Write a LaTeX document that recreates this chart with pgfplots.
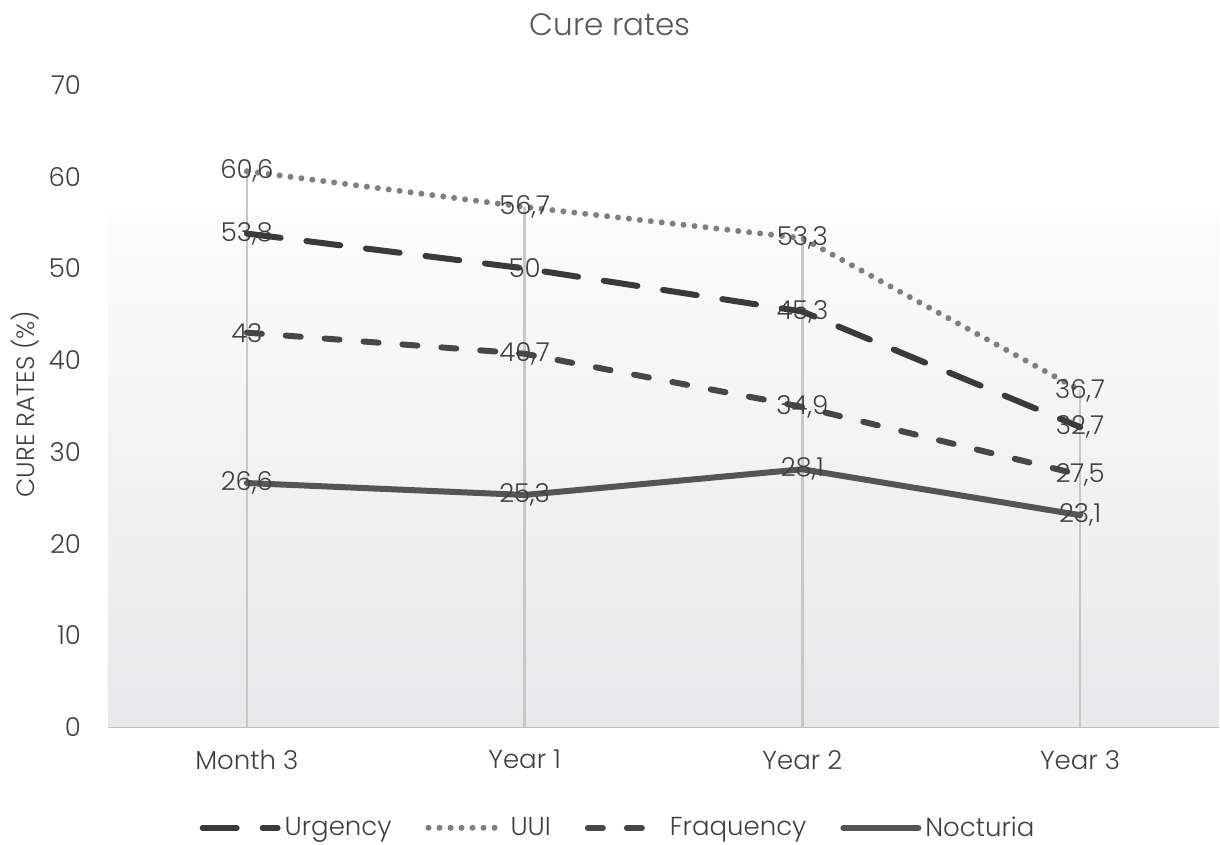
\documentclass[border=0pt]{standalone}
\usepackage{pgfplots}
\pgfplotsset{compat=1.18}
\usepackage{fontspec}
\setmainfont{Poppins Light}
\definecolor{txt}{HTML}{404040}
\definecolor{ttl}{HTML}{595959}
\definecolor{axisgray}{HTML}{BFBFBF}
\definecolor{dropgray}{HTML}{C8C8C8}
\definecolor{urg}{HTML}{3A3A3A}
\definecolor{uui}{HTML}{7F7F7F}
\definecolor{fra}{HTML}{474747}
\definecolor{noc}{HTML}{555555}
\definecolor{bgbot}{HTML}{E8E8EA}
\definecolor{bgtop}{HTML}{FCFCFC}
\begin{document}
\begin{tikzpicture}
\path[use as bounding box] (0,0) rectangle (610pt,422.5pt);
\node[font=\fontsize{15.5}{18}\selectfont, text=ttl] at (305pt,410pt) {Cure rates};
\node[font=\fontsize{12.5}{15}\selectfont, text=txt, rotate=90] at (12.5pt,220.5pt) {CURE RATES (\%)};
\begin{axis}[
  at={(54pt,59pt)}, anchor=south west,
  scale only axis, width=555.5pt, height=321pt,
  xmin=-0.5, xmax=3.5, ymin=0, ymax=70,
  xtick={0,1,2,3}, xticklabels={Month 3,Year 1,Year 2,Year 3},
  ytick={0,10,...,70},
  axis x line*=bottom, axis y line*=left,
  y axis line style={draw=none},
  x axis line style={draw=axisgray, line width=1.2pt},
  major tick length=0pt,
  tick label style={font=\fontsize{13}{15}\selectfont, text=txt},
  yticklabel style={xshift=-10pt},
  xticklabel style={yshift=-8pt},
  /pgf/number format/assume math mode=true,
  /pgf/number format/use comma,
  /pgf/number format/fixed,
  /pgf/number format/precision=1,
  clip=false,
  point meta=y,
  lbl/.style={nodes near coords, every node near coord/.append style={anchor=center, font=\fontsize{13}{15}\selectfont, text=txt}},
  legend image code/.code={\draw[#1] (0pt,0pt) -- (37.5pt,0pt);},
  legend style={at={(0.46,-0.157)}, anchor=center, draw=none, fill=none,
    font=\fontsize{13}{15}\selectfont, text=txt, legend columns=4,
    /tikz/every even column/.append style={column sep=15pt},
    /tikz/every odd column/.append style={column sep=0pt}},
]
\fill[top color=bgtop, bottom color=bgbot] (axis cs:-0.5,0) rectangle (axis cs:3.5,56);
\addplot[ycomb, draw=dropgray, line width=1.2pt, no marks, forget plot] coordinates {(0,60.6) (1,56.7) (2,53.3) (3,36.7)};
\addplot[lbl, draw=urg, line width=3pt, line cap=round, dash pattern=on 17pt off 13pt, no marks] coordinates {(0,53.8) (1,50) (2,45.3) (3,32.7)};
\addlegendentry{Urgency}
\addplot[lbl, draw=uui, line width=3pt, line cap=round, dash pattern=on 0pt off 5.5pt, no marks] coordinates {(0,60.6) (1,56.7) (2,53.3) (3,36.7)};
\addlegendentry{UUI}
\addplot[lbl, draw=fra, line width=3pt, line cap=round, dash pattern=on 7.5pt off 12pt, no marks] coordinates {(0,43) (1,40.7) (2,34.9) (3,27.5)};
\addlegendentry{Fraquency}
\addplot[lbl, draw=noc, line width=3pt, line cap=round, no marks] coordinates {(0,26.6) (1,25.3) (2,28.1) (3,23.1)};
\addlegendentry{Nocturia}
\end{axis}
\end{tikzpicture}
\end{document}
